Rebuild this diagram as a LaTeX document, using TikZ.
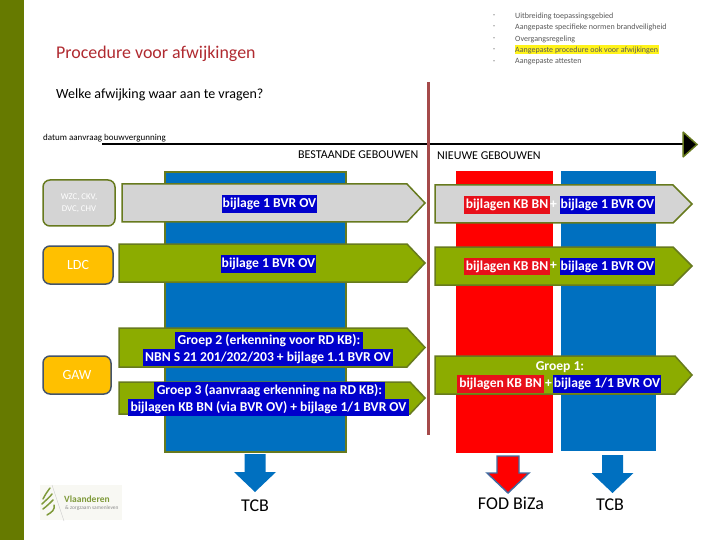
\documentclass[tikz,border=0pt]{standalone}
\usepackage{fontspec}
\setmainfont{Carlito}
\definecolor{olivebar}{HTML}{667A00}
\definecolor{oliveedge}{HTML}{677A1E}
\definecolor{greenfill}{HTML}{8CAC00}
\definecolor{grayfill}{HTML}{D4D4D4}
\definecolor{bluefill}{HTML}{0070C0}
\definecolor{labelblue}{HTML}{0000CC}
\definecolor{labelred}{HTML}{E8101A}
\definecolor{vline}{HTML}{A54A4A}
\definecolor{titlered}{HTML}{B02A30}
\definecolor{slateedge}{HTML}{44546A}
\definecolor{amber}{HTML}{FFC000}
\definecolor{steeledge}{HTML}{3F6BA0}
\definecolor{logoback}{HTML}{F8F8F3}
\definecolor{logogreen}{HTML}{7F9A3A}
\tikzset{
 bulletitem/.style={anchor=west,inner sep=0pt,text=black!65,font=\fontsize{8}{9}\selectfont},
 arrowgray/.style={draw=oliveedge,line width=1.5pt,fill=grayfill},
 arrowgreen/.style={draw=oliveedge,line width=1.5pt,fill=greenfill},
 sidebox/.style={rounded corners=7pt,line width=1.5pt,align=center,text=white,inner sep=0pt},
 lblbox/.style={inner sep=0pt,text=white,font=\fontsize{13.6}{14}\selectfont\bfseries,anchor=center},
 headtext/.style={inner sep=0pt,anchor=west,font=\fontsize{12}{14}\selectfont},
 bigtext/.style={inner sep=0pt,font=\fontsize{18}{20}\selectfont}
}
% x1 x2 xhead ytop ybottom style
\newcommand{\pentarrow}[6]{\draw[#6] (#1,#4) -- (#3,#4) -- (#2,{(#4+#5)/2}) -- (#3,#5) -- (#1,#5) -- cycle;}
% name x1 x2 y1 y2 colour text
\newcommand{\lblrect}[7]{\node[lblbox,fill=#6,minimum width={#3pt-#2pt},minimum height={#5pt-#4pt}] (#1) at ({(#2+#3)/2},{(#4+#5)/2}) {#7};}
% centre, top, shaft half, y shaft bottom, tip, style
\newcommand{\blockdown}[6]{\path[#6] ({#1-#3},#2) -- ({#1+#3},#2) -- ({#1+#3},#4) -- ({#1+21},#4) -- (#1,#5) -- ({#1-21},#4) -- ({#1-#3},#4) -- cycle;}
\begin{document}
\begin{tikzpicture}[x=1pt,y=-1pt]
\useasboundingbox (0,0) rectangle (720,540);
\fill[white] (0,0) rectangle (720,540);
\fill[olivebar] (0,0) rectangle (24,540);

% top list
\fill[yellow!90!white] (514.5,45.5) rectangle (659,54.5);
\foreach \n/\yy/\tx in {a/16/Uitbreiding toepassingsgebied,b/27/Aangepaste specifieke normen brandveiligheid,c/39/Overgangsregeling,d/50/Aangepaste procedure ook voor afwijkingen,e/62/Aangepaste attesten}{
  \node[bulletitem] (bul\n) at (493,\yy) {·};
  \node[bulletitem] (item\n) at (515,\yy) {\tx};
}
\node[inner sep=0pt,anchor=west,text=titlered,font=\fontsize{17.9}{20}\selectfont] (title) at (56,54) {Procedure voor afwijkingen};
\node[inner sep=0pt,anchor=west,font=\fontsize{14}{16}\selectfont] (question) at (56,94.5) {Welke afwijking waar aan te vragen?};

% timeline
\node[inner sep=0pt,anchor=west,font=\fontsize{9}{10}\selectfont] (datum) at (43,138.5) {datum aanvraag bouwvergunning};
\coordinate (tlstart) at (102,144);
\coordinate (tlmid) at (618,144);
\coordinate (tlend) at (684,144);
\draw[line width=2.6pt] (tlstart) -- (tlmid);
\draw[line width=1.4pt] (tlmid) -- (tlend);
\draw[fill=black,draw=oliveedge,line width=1.5pt,miter limit=2] (683,132) -- (697,144.5) -- (683,157) -- cycle;

\node[headtext] (best) at (298,154.5) {BESTAANDE GEBOUWEN};
\node[headtext] (nieuw) at (437,155.5) {NIEUWE GEBOUWEN};

% columns
\draw[fill=bluefill,draw=oliveedge,line width=1.5pt] (165,172) rectangle (346,452);
\fill[red] (456,171) rectangle (553,453);
\fill[bluefill] (561,171) rectangle (656,451);

% vertical separator
\draw[vline,line width=3pt] (428.5,82) -- (428.5,435);

% left arrows
\pentarrow{122}{425}{407}{184}{222}{arrowgray}
\pentarrow{119}{425}{407}{244}{282}{arrowgreen}
\pentarrow{119}{425}{407}{328}{367}{arrowgreen}
\pentarrow{119}{425}{410}{382}{414}{arrowgreen}
% right arrows
\pentarrow{435}{692}{673}{185}{223}{arrowgray}
\pentarrow{435}{692}{673}{247}{285}{arrowgreen}
\pentarrow{435}{692}{675}{356}{394}{arrowgreen}

% side boxes
\node[sidebox,draw=oliveedge,fill=grayfill,minimum width=72pt,minimum height=46pt,font=\fontsize{8.8}{11.7}\selectfont] (wzc) at (79,203) {WZC, CKV,\\DVC, CHV};
\node[sidebox,draw=slateedge,fill=amber,minimum width=70pt,minimum height=38pt,font=\fontsize{14}{16}\selectfont] (ldc) at (78,265) {LDC};
\node[sidebox,draw=slateedge,fill=amber,minimum width=68pt,minimum height=38pt,font=\fontsize{14}{16}\selectfont] (gaw) at (77,375) {GAW};

% labels
\lblrect{l1}{222}{317}{195}{213}{labelblue}{bijlage 1 BVR OV}
\lblrect{l2}{221}{316}{255}{273}{labelblue}{bijlage 1 BVR OV}
\lblrect{r1a}{464}{550}{196}{214}{labelred}{bijlagen KB BN}
\node[lblbox] (r1p) at (553.5,205) {+};
\lblrect{r1b}{560}{655}{196}{214}{labelblue}{bijlage 1 BVR OV}
\lblrect{r2a}{464}{550}{258}{275}{labelred}{bijlagen KB BN}
\node[lblbox] (r2p) at (553.5,266) {+};
\lblrect{r2b}{560}{655}{258}{275}{labelblue}{bijlage 1 BVR OV}
\lblrect{g2a}{175}{363}{332}{349}{labelblue}{Groep 2 (erkenning voor RD KB):}
\lblrect{g2b}{143}{393}{349}{366}{labelblue}{NBN S 21 201/202/203 + bijlage 1.1 BVR OV}
\lblrect{g3a}{154}{385}{382}{399}{labelblue}{Groep 3 (aanvraag erkenning na RD KB):}
\lblrect{g3b}{128}{409}{399}{416}{labelblue}{bijlagen KB BN (via BVR OV) + bijlage 1/1 BVR OV}
\node[lblbox] (g1) at (560,367) {Groep 1:};
\lblrect{g1a}{457}{544}{375}{393}{labelred}{bijlagen KB BN}
\node[lblbox] (g1p) at (548.5,384) {+};
\lblrect{g1b}{553}{661}{375}{393}{labelblue}{bijlage 1/1 BVR OV}

% block arrows
\blockdown{255}{454}{10.5}{472}{492}{fill=bluefill}
\blockdown{508}{456}{11}{473}{493}{fill=red,draw=steeledge,line width=1.4pt}
\blockdown{612.5}{455}{10.5}{473}{493}{fill=bluefill}
\node[bigtext] (tcba) at (255,506) {TCB};
\node[bigtext] (fod) at (511,503) {FOD BiZa};
\node[bigtext] (tcbb) at (610,505) {TCB};

% logo
\fill[logoback] (40,485) rectangle (122,520);
\draw[black!20,line width=0.4pt] (52,485) -- (64,521);
\draw[logogreen,line width=1.5pt,line cap=round] (43,499) .. controls (46,493) and (48,491) .. (50,488);
\draw[logogreen,line width=1.5pt,line cap=round] (42,504) .. controls (46,500) and (50,497) .. (52,494);
\draw[logogreen,line width=1.5pt,line cap=round] (43,509) .. controls (47,506) and (50,503) .. (53,500);
\draw[logogreen,line width=1.5pt,line cap=round] (47,515) .. controls (52,512) and (55,510) .. (54,505);
\node[inner sep=0pt,anchor=west,text=logogreen,font=\fontsize{9.5}{10}\selectfont\bfseries] (vl) at (64,499) {Vlaanderen};
\node[inner sep=0pt,anchor=west,text=black!45,font=\fontsize{5.4}{6}\selectfont] (vl2) at (65,508) {\& zorgzaam samenleven};
\end{tikzpicture}
\end{document}
